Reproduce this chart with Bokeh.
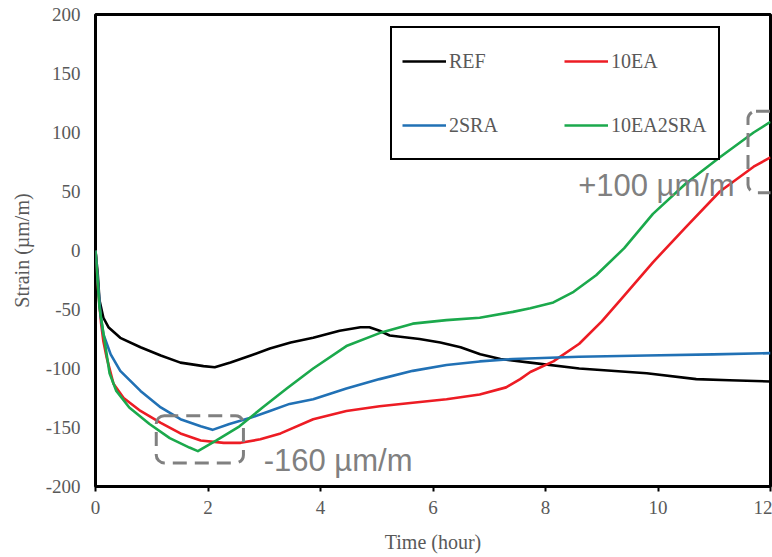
from bokeh.plotting import figure
from bokeh.models import (Legend, LegendItem, FixedTicker, Label, BoxAnnotation, Range1d,
                          PrintfTickFormatter)
from bokeh.embed import file_html
from bokeh.resources import INLINE

# ---- data ----
ref_hours = [0, 0.04, 0.07, 0.14, 0.23, 0.44, 0.8, 1.16, 1.51, 1.92, 2.12, 2.4, 2.76, 3.1, 3.47,
             3.87, 4.34, 4.71, 4.87, 5.05, 5.23, 5.76, 6.13, 6.49, 6.84, 7.2, 7.73, 8.6, 9.8,
             10.68, 11.27, 12]
ref_strain = [0, -20, -42, -57, -65, -74, -82, -89, -95, -98, -99, -95, -89, -83, -78,
              -74, -68, -65, -65, -68, -72, -75, -78, -82, -88, -92, -95, -100, -104,
              -109, -110, -111]

ea_hours = [0, 0.05, 0.1, 0.14, 0.2, 0.32, 0.5, 0.8, 1.16, 1.51, 1.87, 2.28, 2.58, 2.93, 3.29,
            3.87, 4.46, 5.05, 5.64, 6.24, 6.83, 7.3, 7.55, 7.73, 8.14, 8.6, 9.0, 9.33, 9.91,
            10.5, 11.1, 11.7, 12]
ea_strain = [0, -35, -62, -77, -91, -113, -125, -136, -146, -155, -161, -163, -163, -160, -155,
             -143, -136, -132, -129, -126, -122, -116, -109, -103, -94, -79, -60, -42, -10,
             20, 50, 71, 79]

sra_hours = [0, 0.04, 0.09, 0.14, 0.27, 0.44, 0.8, 1.16, 1.51, 1.87, 2.08, 2.38, 2.74, 3.1, 3.45,
             3.87, 4.46, 5.05, 5.64, 6.24, 6.83, 7.42, 8.6, 9.8, 10.98, 12]
sra_strain = [0, -25, -55, -71, -88, -102, -119, -133, -143, -149, -152, -147, -142, -136, -130,
              -126, -117, -109, -102, -97, -94, -92, -90, -89, -88, -87]

easra_hours = [0, 0.07, 0.16, 0.25, 0.37, 0.6, 0.96, 1.32, 1.67, 1.82, 2.15, 2.56, 2.97, 3.4,
               3.87, 4.46, 5.05, 5.64, 6.24, 6.83, 7.42, 7.73, 8.14, 8.5, 8.9, 9.4, 9.91, 10.5,
               11.1, 11.7, 12]
easra_strain = [0, -48, -76, -104, -119, -133, -147, -159, -167, -170, -161, -149, -133, -117,
                -100, -81, -70, -62, -59, -57, -52, -49, -44, -35, -21, 2, 31, 57,
                79, 100, 109]

x_ticks = [0, 2, 4, 6, 8, 10, 12]
y_ticks = [-200, -150, -100, -50, 0, 50, 100, 150, 200]
series_names = ["REF", "10EA", "2SRA", "10EA2SRA"]
series_colors = ["#000000", "#ED1C24", "#2171B5", "#1BA94C"]

# ---- figure ----
SERIF = '"Liberation Serif"'
SANS = '"Liberation Sans"'
GREY = "#595959"

p = figure(width=772, height=557, output_backend="svg", toolbar_location=None,
           x_range=Range1d(0, 12), y_range=Range1d(-200, 200),
           min_border_left=95, min_border_right=2, min_border_top=14, min_border_bottom=71)
p.background_fill_color = "white"
p.border_fill_color = "white"
p.xgrid.visible = False
p.ygrid.visible = False
p.outline_line_color = "black"
p.outline_line_alpha = 1.0
p.outline_line_width = 3

p.xaxis.ticker = FixedTicker(ticks=x_ticks)
p.yaxis.ticker = FixedTicker(ticks=y_ticks)
for ax in (p.xaxis[0], p.yaxis[0]):
    ax.formatter = PrintfTickFormatter(format="%d")
    ax.axis_line_color = None
    ax.minor_tick_line_color = None
    ax.major_label_text_font = SERIF
    ax.major_label_text_font_size = "19px"
    ax.major_label_text_color = GREY
    ax.axis_label_text_font = SERIF
    ax.axis_label_text_font_size = "20px"
    ax.axis_label_text_font_style = "normal"
    ax.axis_label_text_color = GREY

p.xaxis.axis_label = "Time (hour)"
p.xaxis.major_tick_out = 5
p.xaxis.major_tick_in = 0
p.xaxis.major_tick_line_width = 2
p.xaxis.major_tick_line_color = "black"
p.xaxis.major_label_standoff = 9
p.xaxis.axis_label_standoff = 14

p.yaxis.axis_label = "Strain (µm/m)"
p.yaxis.major_tick_out = 0
p.yaxis.major_tick_in = 0
p.yaxis.major_label_standoff = 15
p.yaxis.axis_label_standoff = 10

renderers = []
for hrs, vals, col in [(ref_hours, ref_strain, series_colors[0]),
                       (ea_hours, ea_strain, series_colors[1]),
                       (sra_hours, sra_strain, series_colors[2]),
                       (easra_hours, easra_strain, series_colors[3])]:
    renderers.append(p.line(hrs, vals, line_color=col, line_width=2.6, line_join="round"))

legend = Legend(items=[LegendItem(label=n, renderers=[r]) for n, r in zip(series_names, renderers)],
                orientation="horizontal", ncols=2,
                location=(295, 326), margin=0, padding=10, spacing=18,
                glyph_width=44, glyph_height=46, label_height=46, label_width=97,
                label_standoff=3,
                label_text_font=SERIF, label_text_font_size="20px", label_text_color=GREY,
                border_line_color="black", border_line_width=2, border_line_alpha=1.0,
                background_fill_color="white", background_fill_alpha=1.0)
p.add_layout(legend)

# ---- annotations ----
ANN_GREY = "#808080"
p.add_layout(BoxAnnotation(left=1.08, right=2.63, top=-140, bottom=-180,
                           fill_alpha=0, line_color=ANN_GREY, line_alpha=1.0, line_width=3,
                           line_dash="14 8", border_radius=8))
p.add_layout(BoxAnnotation(left=11.6, right=12.2, top=118, bottom=49,
                           fill_alpha=0, line_color=ANN_GREY, line_alpha=1.0, line_width=3,
                           line_dash="14 8", border_radius=8))
p.add_layout(Label(x=2.99, y=-178, text="-160 µm/m", text_font=SANS,
                   text_font_size="31px", text_color=ANN_GREY, text_baseline="middle",
                   text_align="left"))
p.add_layout(Label(x=8.58, y=55, text="+100 µm/m", text_font=SANS,
                   text_font_size="31px", text_color=ANN_GREY, text_baseline="middle",
                   text_align="left"))

open("out.html", "w").write(file_html(p, INLINE))
